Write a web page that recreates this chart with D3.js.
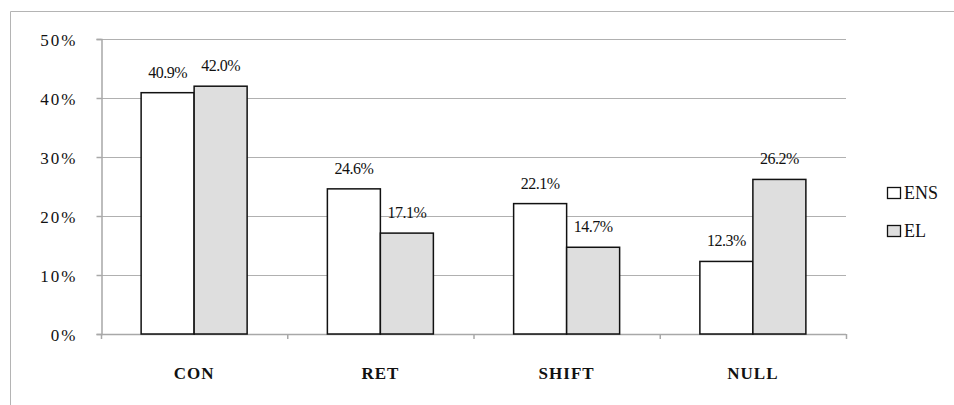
<!DOCTYPE html>
<html><head><meta charset="utf-8">
<script src="https://cdn.jsdelivr.net/npm/d3@7/dist/d3.min.js"></script>
<style>body{margin:0;background:#fff}svg{display:block}</style>
</head><body><svg id="c" width="954" height="405"></svg>
<script>
const categories = ["CON", "RET", "SHIFT", "NULL"];
const seriesNames = ["ENS", "EL"];
const ensValues = [40.9, 24.6, 22.1, 12.3];
const elValues = [42.0, 17.1, 14.7, 26.2];
const yTicks = [0, 10, 20, 30, 40, 50];

const svg = d3.select("#c");
const pLeft = 101, pRight = 846, pTop = 39, pBottom = 334;
const x = d3.scaleBand().domain(categories).range([pLeft, pRight]).paddingInner(0).paddingOuter(0);
const x1 = d3.scaleBand().domain(seriesNames).range([0, 106]);
const y = d3.scaleLinear().domain([0, 50]).range([pBottom, pTop]);
const fills = {ENS: "#ffffff", EL: "#dedede"};
const serif = "'Liberation Serif','DejaVu Serif',serif";

// outer border
svg.append("path").attr("d", "M10.5,405 L10.5,11.5 L954,11.5").attr("fill", "none").attr("stroke", "#b4b4b4").attr("stroke-width", 1);

// gridlines
svg.append("g").selectAll("line").data(yTicks.filter(d => d > 0)).join("line")
  .attr("x1", pLeft).attr("x2", pRight).attr("y1", d => Math.round(y(d)) + 0.5).attr("y2", d => Math.round(y(d)) + 0.5)
  .attr("stroke", "#b0b0b0").attr("stroke-width", 1.2);

// y axis
const yAxis = svg.append("g").attr("transform", `translate(${pLeft + 0.5},0)`)
  .call(d3.axisLeft(y).tickValues(yTicks).tickSize(5).tickFormat(d => d + "%"));
yAxis.select(".domain").attr("stroke", "#a8a8a8").attr("stroke-width", 1.5);
yAxis.selectAll(".tick line").attr("stroke", "#a8a8a8").attr("stroke-width", 1.5);
yAxis.selectAll(".tick text").attr("x", -24).attr("dy", "0.72em").attr("y", -6)
  .attr("font-family", serif).attr("font-size", 17).attr("letter-spacing", 2).attr("fill", "#111");

// x axis
const bounds = categories.map(c => x(c)).concat([pRight]);
svg.append("line").attr("x1", pLeft).attr("x2", pRight).attr("y1", pBottom + 0.5).attr("y2", pBottom + 0.5)
  .attr("stroke", "#a8a8a8").attr("stroke-width", 1.5);
svg.append("g").selectAll("line").data(bounds).join("line")
  .attr("x1", d => d + 0.5).attr("x2", d => d + 0.5).attr("y1", pBottom).attr("y2", pBottom + 5)
  .attr("stroke", "#a8a8a8").attr("stroke-width", 1.5);
svg.append("g").selectAll("text").data(categories).join("text")
  .attr("x", d => x(d) + x.bandwidth() / 2).attr("y", 379)
  .attr("text-anchor", "middle").attr("font-family", serif).attr("font-weight", "bold")
  .attr("font-size", 17).attr("letter-spacing", 1).attr("fill", "#111").text(d => d);

// bars
const rows = [];
categories.forEach((c, i) => {
  rows.push({c, s: "ENS", v: ensValues[i]});
  rows.push({c, s: "EL", v: elValues[i]});
});
const off = (x.bandwidth() - 106) / 2;
svg.append("g").selectAll("rect").data(rows).join("rect")
  .attr("x", d => x(d.c) + off + x1(d.s))
  .attr("y", d => y(d.v))
  .attr("width", x1.bandwidth())
  .attr("height", d => pBottom - y(d.v))
  .attr("fill", d => fills[d.s]).attr("stroke", "#111").attr("stroke-width", 1.5);

svg.append("g").selectAll("text").data(rows).join("text")
  .attr("x", d => x(d.c) + off + x1(d.s) + x1.bandwidth() / 2)
  .attr("y", d => y(d.v) - 15)
  .attr("text-anchor", "middle").attr("font-family", serif).attr("font-size", 16)
  .attr("letter-spacing", -0.5).attr("fill", "#111").text(d => d.v.toFixed(1) + "%");

// legend
const lg = svg.append("g");
seriesNames.forEach((s, i) => {
  const yy = 187 + i * 38;
  lg.append("rect").attr("x", 887.5).attr("y", yy + 0.5).attr("width", 13).attr("height", 11)
    .attr("fill", fills[s]).attr("stroke", "#111").attr("stroke-width", 1.3);
  lg.append("text").attr("x", 904).attr("y", yy + 12).attr("font-family", serif).attr("font-size", 18)
    .attr("fill", "#111").text(s);
});
</script></body></html>
